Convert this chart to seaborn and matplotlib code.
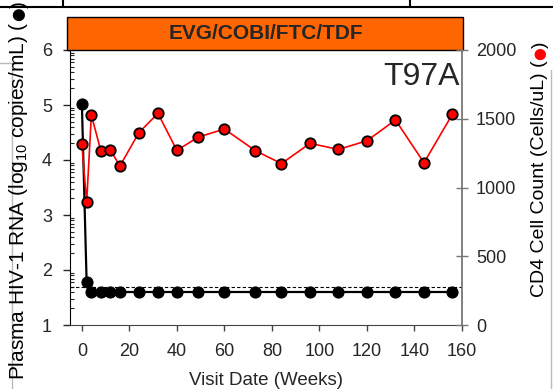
import matplotlib
matplotlib.use("Agg")
import numpy as np
import pandas as pd
import matplotlib.pyplot as plt
import seaborn as sns
from matplotlib.patches import Rectangle
from matplotlib.lines import Line2D
from matplotlib.ticker import FixedLocator

# ---- data ----
weeks = [0, 2, 4, 8, 12, 16, 24, 32, 40, 49, 60, 73, 84, 96, 108, 120, 132, 144, 156]
hiv_rna_log10 = [5.02, 1.78, 1.6, 1.6, 1.6, 1.6, 1.6, 1.6, 1.6, 1.6, 1.6, 1.6, 1.6,
                 1.6, 1.6, 1.6, 1.6, 1.6, 1.6]
cd4_count = [1314, 892, 1527, 1265, 1273, 1156, 1399, 1539, 1270, 1367, 1425, 1268,
             1174, 1321, 1277, 1340, 1491, 1180, 1534]
limit_of_detection = np.log10(50)
x_ticks = [0, 20, 40, 60, 80, 100, 120, 140, 160]
left_ticks = [1, 2, 3, 4, 5, 6]
right_ticks = [0, 500, 1000, 1500, 2000]
banner_text = "EVG/COBI/FTC/TDF"
panel_label = "T97A"
x_label = "Visit Date (Weeks)"
left_label_parts = ["Plasma HIV-1 RNA (log$_{10}$ copies/mL) (", "\u25CF", ")"]
right_label_parts = ["CD4 Cell Count (Cells/uL) (", "\u25CF", ")"]

df = pd.DataFrame({"week": weeks, "rna": hiv_rna_log10, "cd4": cd4_count})

sns.set_style("ticks")
plt.rcParams["font.family"] = ["Liberation Sans", "DejaVu Sans"]
plt.rcParams["mathtext.default"] = "regular"

W, H = 553, 389
fig = plt.figure(figsize=(W / 100, H / 100), dpi=100)
ax = fig.add_axes([70 / W, 1 - 325 / H, 392 / W, 275 / H])

sns.lineplot(data=df, x="week", y="rna", ax=ax, color="black", linewidth=1.6,
             marker="o", markersize=8, markerfacecolor="black",
             markeredgecolor="black", zorder=3)
ax.axhline(limit_of_detection, color="black", linestyle=(0, (3, 2)), linewidth=0.8, zorder=2)

ax2 = ax.twinx()
sns.lineplot(data=df, x="week", y="cd4", ax=ax2, color="red", linewidth=1.2,
             marker="o", markersize=7.5, markerfacecolor="red",
             markeredgecolor="black", markeredgewidth=1.3, zorder=4)

ax.set_xlim(-5, 160)
ax.set_ylim(1, 6)
ax2.set_ylim(0, 2000)
ax.set_xticks(x_ticks)
ax.set_yticks(left_ticks)
ax2.set_yticks(right_ticks)
ax.yaxis.set_minor_locator(FixedLocator(
    [n + np.log10(k) for n in range(1, 6) for k in range(2, 10)]))

ax.set_xlabel(x_label, fontsize=13.5, labelpad=8.5)
ax.set_ylabel("")
ax2.set_ylabel("")

for a in (ax, ax2):
    a.spines["top"].set_visible(False)
ax.spines["right"].set_visible(False)
ax2.spines["left"].set_visible(False)
ax2.spines["bottom"].set_visible(False)
ax.spines["left"].set_color("black")
ax.spines["bottom"].set_color("#444444")
ax2.spines["right"].set_color("#777777")
ax2.spines["right"].set_linewidth(1.3)

ax.tick_params(axis="x", direction="out", length=4, width=1, color="#444444",
               labelsize=13, pad=9)
ax.tick_params(axis="y", which="major", direction="out", length=5, width=1,
               labelsize=13, pad=8)
ax.tick_params(axis="y", which="minor", direction="in", length=3, width=0.8)
ax2.tick_params(axis="y", direction="inout", length=8, width=1, color="#777777",
                labelsize=13, pad=6)

# banner
ax.add_patch(Rectangle((-0.008, 1.0), 1.01, 33 / 275, transform=ax.transAxes,
                       facecolor="#FF6600", edgecolor="black", linewidth=1,
                       clip_on=False, zorder=5))
ax.text(0.5, 1.0 + 16.5 / 275, banner_text, transform=ax.transAxes, ha="center",
        va="center", fontsize=15, fontweight="bold", zorder=6)
ax2.text(0.995, (325 - 85) / 275, panel_label, transform=ax.transAxes, ha="right",
         va="baseline", fontsize=23, zorder=6)


def stacked_label(x_px, bottom_px, parts, colors, size):
    ypos = 1 - bottom_px / H
    for part, col in zip(parts, colors):
        if part == "\u25CF":
            t = fig.text(x_px / W, ypos, part, rotation=90, ha="center", va="bottom",
                         fontsize=size * 0.75, color=col, family="DejaVu Sans")
        else:
            t = fig.text(x_px / W, ypos, part, rotation=90, ha="center", va="bottom",
                         fontsize=size, color=col)
        fig.canvas.draw()
        bb = t.get_window_extent()
        ypos = bb.y1 / fig.bbox.height


stacked_label(19, 380, left_label_parts, ["black", "black", "black"], 15)
stacked_label(540, 297, right_label_parts, ["black", "red", "black"], 14)

# crop artifacts from neighbouring panels
lines = [
    ([0, 1], [1 - 7 / H, 1 - 7 / H], "black", 1.5),
    ([63 / W, 63 / W], [1 - 7 / H, 1], "black", 1.5),
    ([410 / W, 410 / W], [1 - 7 / H, 1], "black", 1.5),
    ([12 / W, 12 / W], [0, 1 - 63 / H], "#bbbbbb", 1),
    ([0, 12 / W], [1 - 63 / H, 1 - 63 / H], "#bbbbbb", 1),
    ([551 / W, 551 / W], [0, 1 - 70 / H], "#bbbbbb", 1),
]
for xs, ys, c, lw in lines:
    fig.add_artist(Line2D(xs, ys, color=c, linewidth=lw, transform=fig.transFigure))

fig.savefig("out.png", dpi=100)
